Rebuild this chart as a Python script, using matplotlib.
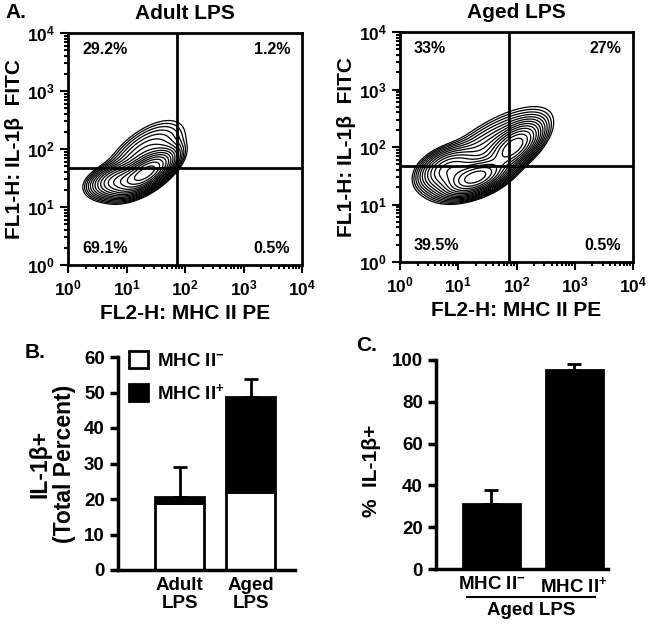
import matplotlib
matplotlib.use("Agg")
import matplotlib.pyplot as plt
from matplotlib.patches import Patch
from matplotlib.ticker import LogLocator, NullFormatter
import numpy as np

plt.rcParams['font.family'] = ['Liberation Sans', 'DejaVu Sans']
plt.rcParams['font.weight'] = 'bold'
plt.rcParams['mathtext.fontset'] = 'custom'
plt.rcParams['mathtext.rm'] = 'Liberation Sans:bold'
plt.rcParams['mathtext.bf'] = 'Liberation Sans:bold'
plt.rcParams['mathtext.it'] = 'Liberation Sans:bold:italic'
plt.rcParams['mathtext.default'] = 'bf'

# ---- panel A: flow cytometry populations (log10 units), gates and quadrant percents
gate_x = 73
gate_y = 47

adult_w = [1.0, 0.35, 0.1]
adult_mx = [1.35, 0.9, 1.3]
adult_my = [1.6, 1.45, 1.85]
adult_sx = [0.22, 0.25, 0.35]
adult_sy = [0.17, 0.14, 0.32]
adult_rho = [0.65, 0.3, 0.6]
adult_quad = ["29.2%", "1.2%", "69.1%", "0.5%"]

aged_w = [1.0, 0.55, 0.1, 0.3]
aged_mx = [1.3, 1.95, 1.55, 0.85]
aged_my = [1.47, 2.0, 1.92, 1.6]
aged_sx = [0.25, 0.22, 0.5, 0.25]
aged_sy = [0.15, 0.2, 0.38, 0.18]
aged_rho = [0.5, 0.6, 0.7, 0.3]
aged_quad = ["33%", "27%", "39.5%", "0.5%"]

# ---- panel B: IL-1b+ total percent, stacked
groups_b = ["Adult\nLPS", "Aged\nLPS"]
mhc_neg = [19.0, 22.0]
mhc_pos = [1.7, 26.8]
err_b = [8.4, 5.0]

# ---- panel C: % IL-1b+ within aged LPS
groups_c = ["MHC II$^{-}$", "MHC II$^{+}$"]
pct_c = [31.0, 95.0]
err_c = [6.8, 2.9]

W, H = 651, 625
fig = plt.figure(figsize=(W / 100, H / 100), dpi=100)


def px_axes(x0, y0, x1, y1):
    return fig.add_axes([x0 / W, 1 - y1 / H, (x1 - x0) / W, (y1 - y0) / H])


def density(w, mx, my, sx, sy, rho, gx, gy):
    z = np.zeros_like(gx)
    for i in range(len(w)):
        dx = (gx - mx[i]) / sx[i]
        dy = (gy - my[i]) / sy[i]
        q = (dx ** 2 - 2 * rho[i] * dx * dy + dy ** 2) / (1 - rho[i] ** 2)
        z += w[i] * np.exp(-q / 2)
    return z


def flow_panel(ax, title, w, mx, my, sx, sy, rho, quad):
    lx = np.linspace(0, 4, 500)
    gx, gy = np.meshgrid(lx, lx)
    z = density(w, mx, my, sx, sy, rho, gx, gy)
    levels = z.max() * np.geomspace(0.012, 0.8, 15)
    ax.contour(10 ** gx, 10 ** gy, z, levels=levels, colors='black', linewidths=0.9)
    ax.set_xscale('log')
    ax.set_yscale('log')
    ax.set_xlim(1, 1e4)
    ax.set_ylim(1, 1e4)
    for axis in (ax.xaxis, ax.yaxis):
        axis.set_major_locator(LogLocator(base=10, numticks=10))
        axis.set_minor_locator(LogLocator(base=10, subs=np.arange(2, 10), numticks=10))
        axis.set_minor_formatter(NullFormatter())
    ax.axvline(gate_x, color='black', lw=2)
    ax.axhline(gate_y, color='black', lw=2)
    for s in ax.spines.values():
        s.set_linewidth(2)
    ax.tick_params(which='both', direction='out', top=False, right=False, width=1.5)
    ax.tick_params(which='major', length=6, labelsize=12.5)
    ax.tick_params(which='minor', length=3)
    ax.set_title(title, fontsize=15, fontweight='bold', pad=10)
    ax.set_xlabel("FL2-H: MHC II PE", fontsize=15, fontweight='bold', labelpad=4)
    ax.set_ylabel("FL1-H: IL-1\u03b2  FITC", fontsize=15, fontweight='bold', labelpad=2)
    kw = dict(transform=ax.transAxes, fontsize=11.5, fontweight='bold', va='center')
    ax.text(0.06, 0.93, quad[0], ha='left', **kw)
    ax.text(0.95, 0.93, quad[1], ha='right', **kw)
    ax.text(0.06, 0.07, quad[2], ha='left', **kw)
    ax.text(0.95, 0.07, quad[3], ha='right', **kw)


ax1 = px_axes(68, 33, 302, 265)
flow_panel(ax1, "Adult LPS", adult_w, adult_mx, adult_my, adult_sx, adult_sy, adult_rho, adult_quad)
ax2 = px_axes(400, 32, 633, 262)
flow_panel(ax2, "Aged LPS", aged_w, aged_mx, aged_my, aged_sx, aged_sy, aged_rho, aged_quad)


def bar_style(ax):
    for s in ['top', 'right']:
        ax.spines[s].set_visible(False)
    for s in ['left', 'bottom']:
        ax.spines[s].set_linewidth(2.5)
    ax.tick_params(axis='y', direction='out', length=6, width=2.5, labelsize=13.5)
    ax.tick_params(axis='x', length=0, labelsize=13.5, pad=5)


# panel B
axb = px_axes(118, 357, 295, 570)
xb = np.arange(len(groups_b))
axb.bar(xb, mhc_neg, width=0.69, color='white', edgecolor='black', linewidth=2)
axb.bar(xb, mhc_pos, width=0.69, bottom=mhc_neg, color='black', edgecolor='black', linewidth=2)
tot = np.array(mhc_neg) + np.array(mhc_pos)
axb.errorbar(xb, tot, yerr=[np.zeros(len(err_b)), err_b], fmt='none', ecolor='black',
             elinewidth=2, capsize=5, capthick=2, zorder=3)
axb.set_xlim(-0.87, 1.62)
axb.set_ylim(0, 60)
axb.set_yticks([0, 10, 20, 30, 40, 50, 60])
axb.set_xticks(xb)
axb.set_xticklabels(groups_b, fontweight='bold', linespacing=1.1)
bar_style(axb)
axb.set_ylabel("IL-1\u03b2+\n(Total Percent)", fontsize=16.5, fontweight='bold', labelpad=6, linespacing=1.05)
handles = [Patch(facecolor='white', edgecolor='black', linewidth=2),
           Patch(facecolor='black', edgecolor='black', linewidth=2)]
axb.legend(handles, ["MHC II$^{-}$", "MHC II$^{+}$"], loc='upper left', bbox_to_anchor=(0.0, 1.08),
           frameon=False, fontsize=13.5, handlelength=1.0, handleheight=1.0, handletextpad=0.5,
           labelspacing=0.7, borderaxespad=0.2)

# panel C
axc = px_axes(436, 360, 608, 569)
xc = np.arange(len(groups_c))
axc.bar(xc, pct_c, width=0.69, color='black', edgecolor='black', linewidth=2)
axc.errorbar(xc, pct_c, yerr=[np.zeros(len(err_c)), err_c], fmt='none', ecolor='black',
             elinewidth=2, capsize=5, capthick=2, zorder=3)
axc.set_xlim(-0.67, 1.41)
axc.set_ylim(0, 100)
axc.set_yticks([0, 20, 40, 60, 80, 100])
axc.set_xticks(xc)
axc.set_xticklabels(groups_c, fontweight='bold')
bar_style(axc)
axc.set_ylabel("%  IL-1\u03b2+", fontsize=15, fontweight='bold')
axc.yaxis.set_label_coords(-0.32, 0.47)
trans = axc.get_xaxis_transform()
axc.plot([xc[0] - 0.3, xc[-1] + 0.25], [-0.134, -0.134], color='black', lw=1.5,
         transform=trans, clip_on=False)
axc.text(xc.mean() - 0.02, -0.2, "Aged LPS", transform=trans, ha='center', va='center',
         fontsize=13.5, fontweight='bold')

fig.text(5 / W, 1 - 13 / H, "A.", fontsize=15, fontweight='bold', va='center')
fig.text(25 / W, 1 - 352 / H, "B.", fontsize=15, fontweight='bold', va='center')
fig.text(356 / W, 1 - 345 / H, "C.", fontsize=15, fontweight='bold', va='center')

fig.savefig("out.png", dpi=100)
